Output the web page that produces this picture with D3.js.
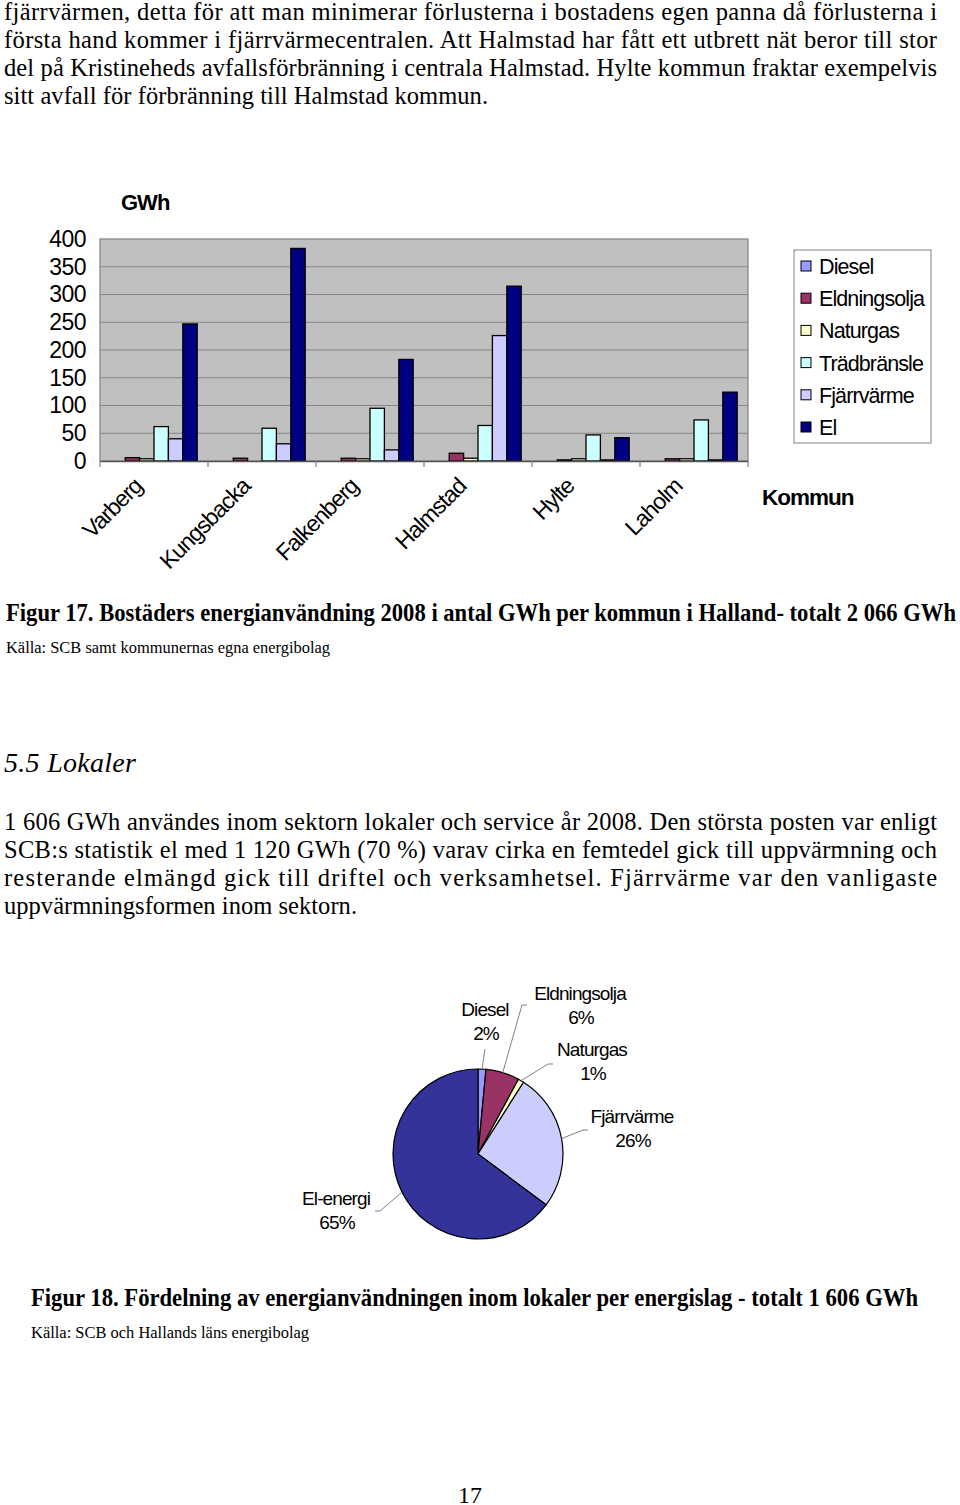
<!DOCTYPE html>
<html lang="sv">
<head>
<meta charset="UTF-8">
<title>Figur 17 och 18</title>
<script src="https://d3js.org/d3.v7.min.js"></script>
<style>
  body, html { margin: 0; padding: 0; background: #fff; }
  svg { display: block; }
</style>
</head>
<body>
<script>
// ---- data ----
const kommuner = ["Varberg", "Kungsbacka", "Falkenberg", "Halmstad", "Hylte", "Laholm"];
const serier = ["Diesel", "Eldningsolja", "Naturgas", "Trädbränsle", "Fjärrvärme", "El"];
const diesel       = [0, 0, 0, 0, 0, 0];
const eldningsolja = [6, 5, 5, 14, 2, 4];
const naturgas     = [4, 0, 4, 5, 4, 4];
const tradbransle  = [62, 59, 95, 64, 47, 74];
const fjarrvarme   = [40, 31, 20, 226, 2, 2];
const el           = [247, 383, 183, 315, 42, 124];
const yTicks = [0, 50, 100, 150, 200, 250, 300, 350, 400];

const pieLabels = ["Diesel", "Eldningsolja", "Naturgas", "Fjärrvärme", "El-energi"];
const pieShares = [1.5, 6.4, 1.1, 26.2, 64.8];

const para1 = [
  "fjärrvärmen, detta för att man minimerar förlusterna i bostadens egen panna då förlusterna i",
  "första hand kommer i fjärrvärmecentralen. Att Halmstad har fått ett utbrett nät beror till stor",
  "del på Kristineheds avfallsförbränning i centrala Halmstad. Hylte kommun fraktar exempelvis",
  "sitt avfall för förbränning till Halmstad kommun."
];
const para2 = [
  "1 606 GWh användes inom sektorn lokaler och service år 2008. Den största posten var enligt",
  "SCB:s statistik el med 1 120 GWh (70 %) varav cirka en femtedel gick till uppvärmning och",
  "resterande elmängd gick till driftel och verksamhetsel. Fjärrvärme var den vanligaste",
  "uppvärmningsformen inom sektorn."
];

// ---- page ----
const width = 960, height = 1505;
const serif = "'Liberation Serif', 'Times New Roman', serif";
const sans = "'Liberation Sans', Arial, sans-serif";

const svg = d3.select("body").append("svg")
  .attr("width", width).attr("height", height);

// one line of text, optionally stretched to a given width
function line(x, y, str, opts) {
  const t = svg.append("text")
    .attr("x", x).attr("y", y)
    .attr("font-family", opts.family || serif)
    .attr("font-size", opts.size)
    .attr("font-weight", opts.weight || "normal")
    .attr("font-style", opts.style || "normal")
    .attr("fill", "#000")
    .text(str);
  if (opts.len) t.attr("textLength", opts.len).attr("lengthAdjust", opts.adjust || "spacing");
  return t;
}

// paragraph 1 (justified, last line natural)
const p1Base = [20, 47.5, 75.5, 103.5];
para1.forEach((s, i) => line(4, p1Base[i], s, { size: 24.5, len: i < 3 ? 933 : 484 }));

// ---- bar chart ----
const plot = { left: 100, right: 748, top: 239, bottom: 461 };
const values = [diesel, eldningsolja, naturgas, tradbransle, fjarrvarme, el];
const colors = ["#9999FF", "#993366", "#FFFFCC", "#CCFFFF", "#CCCCFF", "#000080"];

const x0 = d3.scaleBand().domain(kommuner).range([plot.left, plot.right]);
const bw = x0.bandwidth();
const x1 = d3.scaleBand().domain(serier).range([bw * 0.1, bw * 0.9]);
const y = d3.scaleLinear().domain([0, 400]).range([plot.bottom, plot.top]);

const chart = svg.append("g");

chart.append("rect")
  .attr("x", plot.left).attr("y", plot.top)
  .attr("width", plot.right - plot.left).attr("height", plot.bottom - plot.top)
  .attr("fill", "#C0C0C0");

chart.append("g")
  .selectAll("line")
  .data(yTicks.filter(d => d > 0 && d < 400))
  .enter().append("line")
  .attr("x1", plot.left).attr("x2", plot.right)
  .attr("y1", d => y(d)).attr("y2", d => y(d))
  .attr("stroke", "#858585").attr("stroke-width", 1);

chart.append("rect")
  .attr("x", plot.left).attr("y", plot.top)
  .attr("width", plot.right - plot.left).attr("height", plot.bottom - plot.top)
  .attr("fill", "none").attr("stroke", "#808080").attr("stroke-width", 1.2);

// bars
const groups = chart.selectAll("g.kommun")
  .data(kommuner)
  .enter().append("g")
  .attr("class", "kommun")
  .attr("transform", d => `translate(${x0(d)},0)`);

groups.selectAll("rect")
  .data((k, ki) => serier.map((s, si) => ({ s: s, v: values[si][ki], c: colors[si] })))
  .enter().append("rect")
  .filter(d => d.v > 0)
  .attr("x", d => x1(d.s))
  .attr("y", d => y(d.v))
  .attr("width", x1.bandwidth())
  .attr("height", d => y(0) - y(d.v))
  .attr("fill", d => d.c)
  .attr("stroke", "#000").attr("stroke-width", 1.3);

// x axis line and ticks
const xAxis = d3.axisBottom(x0).tickSize(0).tickFormat("");
chart.append("g")
  .attr("transform", `translate(0,${plot.bottom})`)
  .call(xAxis)
  .call(g => g.select(".domain").attr("stroke", "#555").attr("stroke-width", 1.5));

chart.append("g")
  .selectAll("line")
  .data(kommuner.map(k => x0(k)).concat([plot.right]))
  .enter().append("line")
  .attr("x1", d => d).attr("x2", d => d)
  .attr("y1", plot.bottom).attr("y2", plot.bottom + 6)
  .attr("stroke", "#808080").attr("stroke-width", 1.2);

// x labels rotated
chart.append("g")
  .selectAll("text")
  .data(kommuner)
  .enter().append("text")
  .attr("transform", d => `translate(${x0(d) + bw / 2 - 16},${plot.bottom + 21}) rotate(-45)`)
  .attr("text-anchor", "end")
  .attr("dy", "0.35em")
  .attr("font-family", sans)
  .attr("font-size", 23)
  .attr("letter-spacing", "-1")
  .text(d => d);

// y labels
const yAxis = d3.axisLeft(y).tickValues(yTicks).tickSize(0).tickPadding(14);
chart.append("g")
  .attr("transform", `translate(${plot.left},0)`)
  .call(yAxis)
  .call(g => g.select(".domain").remove())
  .call(g => g.selectAll("text")
    .attr("font-family", sans).attr("font-size", 23)
    .attr("letter-spacing", "-0.5").attr("fill", "#000"));

// axis titles
line(121, 210, "GWh", { family: sans, size: 22, weight: "bold" }).attr("letter-spacing", "-1");
line(762, 505, "Kommun", { family: sans, size: 22.5, weight: "bold" }).attr("letter-spacing", "-1");

// legend
const legend = chart.append("g").attr("transform", "translate(794,250)");
legend.append("rect")
  .attr("width", 137).attr("height", 193)
  .attr("fill", "#fff").attr("stroke", "#808080").attr("stroke-width", 1);
const li = legend.selectAll("g.item")
  .data(serier)
  .enter().append("g")
  .attr("class", "item")
  .attr("transform", (d, i) => `translate(0,${16 + i * 32.2})`);
li.append("rect")
  .attr("x", 7).attr("y", -5).attr("width", 10).attr("height", 10)
  .attr("fill", (d, i) => colors[i]).attr("stroke", "#000").attr("stroke-width", 1);
li.append("text")
  .attr("x", 25).attr("y", 8)
  .attr("font-family", sans).attr("font-size", 21.5)
  .attr("letter-spacing", "-0.9")
  .text(d => d);

// caption 17
line(6, 621, "Figur 17. Bostäders energianvändning 2008 i antal GWh per kommun i Halland- totalt 2 066 GWh",
  { size: 25, weight: "bold", len: 950, adjust: "spacingAndGlyphs" });
line(6, 653, "Källa: SCB samt kommunernas egna energibolag",
  { size: 17.5, len: 324, adjust: "spacingAndGlyphs" });

// section heading and paragraph 2
line(4, 772, "5.5 Lokaler", { size: 28, style: "italic", len: 132 });
const p2Base = [830, 858, 886, 914];
para2.forEach((s, i) => line(4, p2Base[i], s, { size: 24.5, len: i < 3 ? 933 : 353 }));

// ---- pie chart ----
const pc = { x: 478, y: 1154, r: 85 };
const pieColors = ["#9999FF", "#993366", "#FFFFCC", "#CCCCFF", "#333399"];
// label placement relative to pie centre: name baseline and leader elbow
const labelPos = [
  { lx: 7, ly: -138, ex: 7, ey: -105, hx: 7 },
  { lx: 102, ly: -154, ex: 44, ey: -149, hx: 49 },
  { lx: 114, ly: -98, ex: 70, ey: -90, hx: 75 },
  { lx: 154, ly: -31, ex: 105, ey: -24, hx: 110 },
  { lx: -142, ly: 51, ex: -98, ey: 57, hx: -103 }
];

const pieData = d3.pie().sort(null).value(d => d)(pieShares);
const arc = d3.arc().innerRadius(0).outerRadius(pc.r);
const pieG = svg.append("g").attr("transform", `translate(${pc.x},${pc.y})`);

pieG.selectAll("path")
  .data(pieData)
  .enter().append("path")
  .attr("d", arc)
  .attr("fill", (d, i) => pieColors[i])
  .attr("stroke", "#000").attr("stroke-width", 1.2);

pieData.forEach((d, i) => {
  const a = (d.startAngle + d.endAngle) / 2;
  const sx = pc.r * Math.sin(a), sy = -pc.r * Math.cos(a);
  const p = labelPos[i];
  pieG.append("polyline")
    .attr("points", `${sx},${sy} ${p.ex},${p.ey} ${p.hx},${p.ey}`)
    .attr("fill", "none").attr("stroke", "#808080").attr("stroke-width", 1);
  const t = pieG.append("text")
    .attr("text-anchor", "middle")
    .attr("font-family", sans).attr("font-size", 19)
    .attr("letter-spacing", "-0.9");
  t.append("tspan").attr("x", p.lx).attr("y", p.ly).text(pieLabels[i]);
  t.append("tspan").attr("x", p.lx + 1).attr("y", p.ly + 24)
    .text(Math.round(d.value) + "%");
});

// caption 18
line(31, 1306, "Figur 18. Fördelning av energianvändningen inom lokaler per energislag - totalt 1 606 GWh",
  { size: 25, weight: "bold", len: 887, adjust: "spacingAndGlyphs" });
line(31, 1338, "Källa: SCB och Hallands läns energibolag",
  { size: 17.5, len: 278, adjust: "spacingAndGlyphs" });

// page number
line(470, 1503, "17", { size: 24 }).attr("text-anchor", "middle");
</script>
</body>
</html>
